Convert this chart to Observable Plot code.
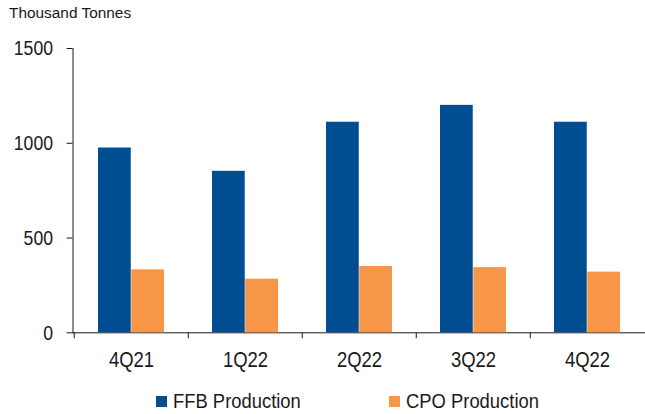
<!DOCTYPE html>
<html><head><meta charset="utf-8">
<script src="https://cdn.jsdelivr.net/npm/d3@7"></script>
<script src="https://cdn.jsdelivr.net/npm/@observablehq/plot@0.6"></script>
<style>
body{margin:0;background:#fff;}
#wrap{position:relative;width:645px;height:414px;overflow:hidden;font-family:"Liberation Sans",Arial,sans-serif;color:#1a1a1a;}
#title{position:absolute;left:9px;top:5.4px;font-size:15.4px;line-height:1;white-space:nowrap;}
#chart{position:absolute;left:0;top:0;}
.item{position:absolute;font-family:"Liberation Sans",Arial,sans-serif;font-size:20px;line-height:1;white-space:nowrap;transform:scaleX(0.92);transform-origin:0 0;}
.sw{position:absolute;width:11px;height:11px;}
</style></head>
<body>
<div id="wrap">
  <div id="chart"></div>
  <div id="title"></div>
  <div id="legend"></div>
</div>
<script>
const quarters = ["4Q21","1Q22","2Q22","3Q22","4Q22"];
const ffb = [975, 852, 1111, 1200, 1111];
const cpo = [332, 283, 350, 344, 320];
const seriesNames = ["FFB Production","CPO Production"];
const seriesColors = ["#004E92","#F79646"];
const yTicks = [0, 500, 1000, 1500];
const titleText = "Thousand Tonnes";

const rows = quarters.map((q,i)=>({q, ffb: ffb[i], cpo: cpo[i]}));

const plot = Plot.plot({
  width: 645, height: 414,
  marginLeft: 72.5, marginRight: 0, marginTop: 48, marginBottom: 81.7,
  style: {fontFamily: '"Liberation Sans",Arial,sans-serif', fontSize: "22px", color: "#1a1a1a", background: "transparent"},
  x: {domain: quarters, padding: 0, tickSize: 0, tickPadding: 19, line: true, label: null},
  y: {domain: [0,1500], ticks: yTicks, tickSize: 6, tickPadding: 14, tickFormat: d3.format("d"), line: true, label: null},
  marks: [
    Plot.barY(rows, {x: "q", y: "ffb", fill: seriesColors[0], insetLeft: 24, insetRight: 57.25}),
    Plot.barY(rows, {x: "q", y: "cpo", fill: seriesColors[1], insetLeft: 57.25, insetRight: 24}),
    Plot.ruleX(quarters, {x: d=>d, y1: 0, y2: 0, dx: -57.25, insetBottom: -6, stroke: "#1a1a1a"})
  ]
});
document.getElementById("chart").appendChild(plot);

// narrow the axis labels horizontally (reference uses a condensed face)
const S = 0.84;
d3.select(plot).selectAll("text").each(function(){
  const t = d3.select(this);
  const txt = t.text();
  const isY = yTicks.map(String).includes(txt);
  t.style("font-size", isY ? "21px" : "22px");
  const tr = t.attr("transform") || "";
  t.attr("transform", (tr + ` scale(${S},1)`).trim());
  const x = t.attr("x");
  if (x != null && !isNaN(parseFloat(x))) t.attr("x", parseFloat(x)/S);
  const dx = t.attr("dx");
  if (dx != null && !isNaN(parseFloat(dx)) && !String(dx).includes("em")) t.attr("dx", parseFloat(dx)/S);
});

document.getElementById("title").textContent = titleText;

const legend = document.getElementById("legend");
const swLeft = [156, 389], txLeft = [172.7, 405.5];
seriesNames.forEach((name,i)=>{
  const sw = document.createElement("div");
  sw.className = "sw"; sw.style.left = swLeft[i]+"px"; sw.style.top = "396.3px"; sw.style.background = seriesColors[i];
  legend.appendChild(sw);
  const t = document.createElement("div");
  t.className = "item"; t.style.left = txLeft[i]+"px"; t.style.top = "391.4px"; t.textContent = name;
  legend.appendChild(t);
});
</script>
</body></html>
